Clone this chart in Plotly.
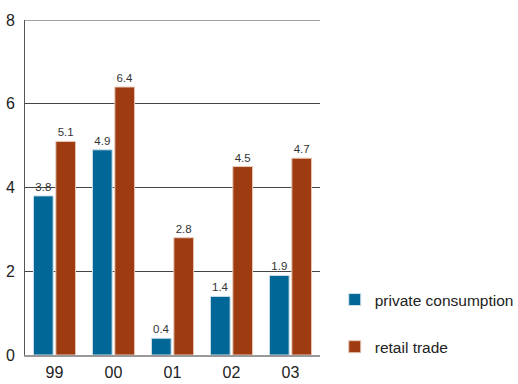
import plotly.graph_objects as go

years = ["99", "00", "01", "02", "03"]
private_consumption = [3.8, 4.9, 0.4, 1.4, 1.9]
retail_trade = [5.1, 6.4, 2.8, 4.5, 4.7]
y_ticks = [0, 2, 4, 6, 8]

BLUE = "#006796"
RUST = "#9e3b10"
FONT = "Liberation Sans, Arial, sans-serif"

fig = go.Figure()
fig.add_trace(go.Bar(
    x=years, y=private_consumption, name="private consumption",
    marker=dict(color=BLUE, line=dict(color="#cfe0ea", width=1)),
    text=[f"{v:.1f}" for v in private_consumption], textposition="outside",
    textfont=dict(size=11.5, color="#333333", family=FONT),
    cliponaxis=False, legendgroup="a",
))
fig.add_trace(go.Bar(
    x=years, y=retail_trade, name="retail trade",
    marker=dict(color=RUST, line=dict(color="#e8c8b8", width=1)),
    text=[f"{v:.1f}" for v in retail_trade], textposition="outside",
    textfont=dict(size=11.5, color="#333333", family=FONT),
    cliponaxis=False, legendgroup="b",
))

# top gridline at the upper end of the value range
fig.add_hline(y=8, line=dict(color="#444444", width=1), layer="below")

fig.update_layout(
    width=518, height=384,
    margin=dict(l=25, r=198, t=20, b=29, autoexpand=False),
    paper_bgcolor="white", plot_bgcolor="white",
    font=dict(family=FONT, color="#222222"),
    barmode="group", bargap=0.24, bargroupgap=0.12,
    showlegend=True,
    legend=dict(
        x=1.05, y=0.215, xanchor="left", yanchor="top",
        font=dict(size=15.5, color="#222222", family=FONT),
        tracegroupgap=24, traceorder="grouped",
        bgcolor="rgba(0,0,0,0)",
    ),
    xaxis=dict(
        showgrid=False, showline=True, linecolor="#999999", linewidth=2,
        tickfont=dict(size=16), ticks="", ticklabelstandoff=2,
        automargin=False,
    ),
    yaxis=dict(
        range=[0, 8], tickvals=y_ticks, showgrid=True,
        gridcolor="#444444", gridwidth=1, zeroline=False,
        showline=True, linecolor="#555555", linewidth=1,
        tickfont=dict(size=16), ticks="", ticklabelstandoff=6,
        automargin=False,
    ),
)

fig.write_html("out.html")
